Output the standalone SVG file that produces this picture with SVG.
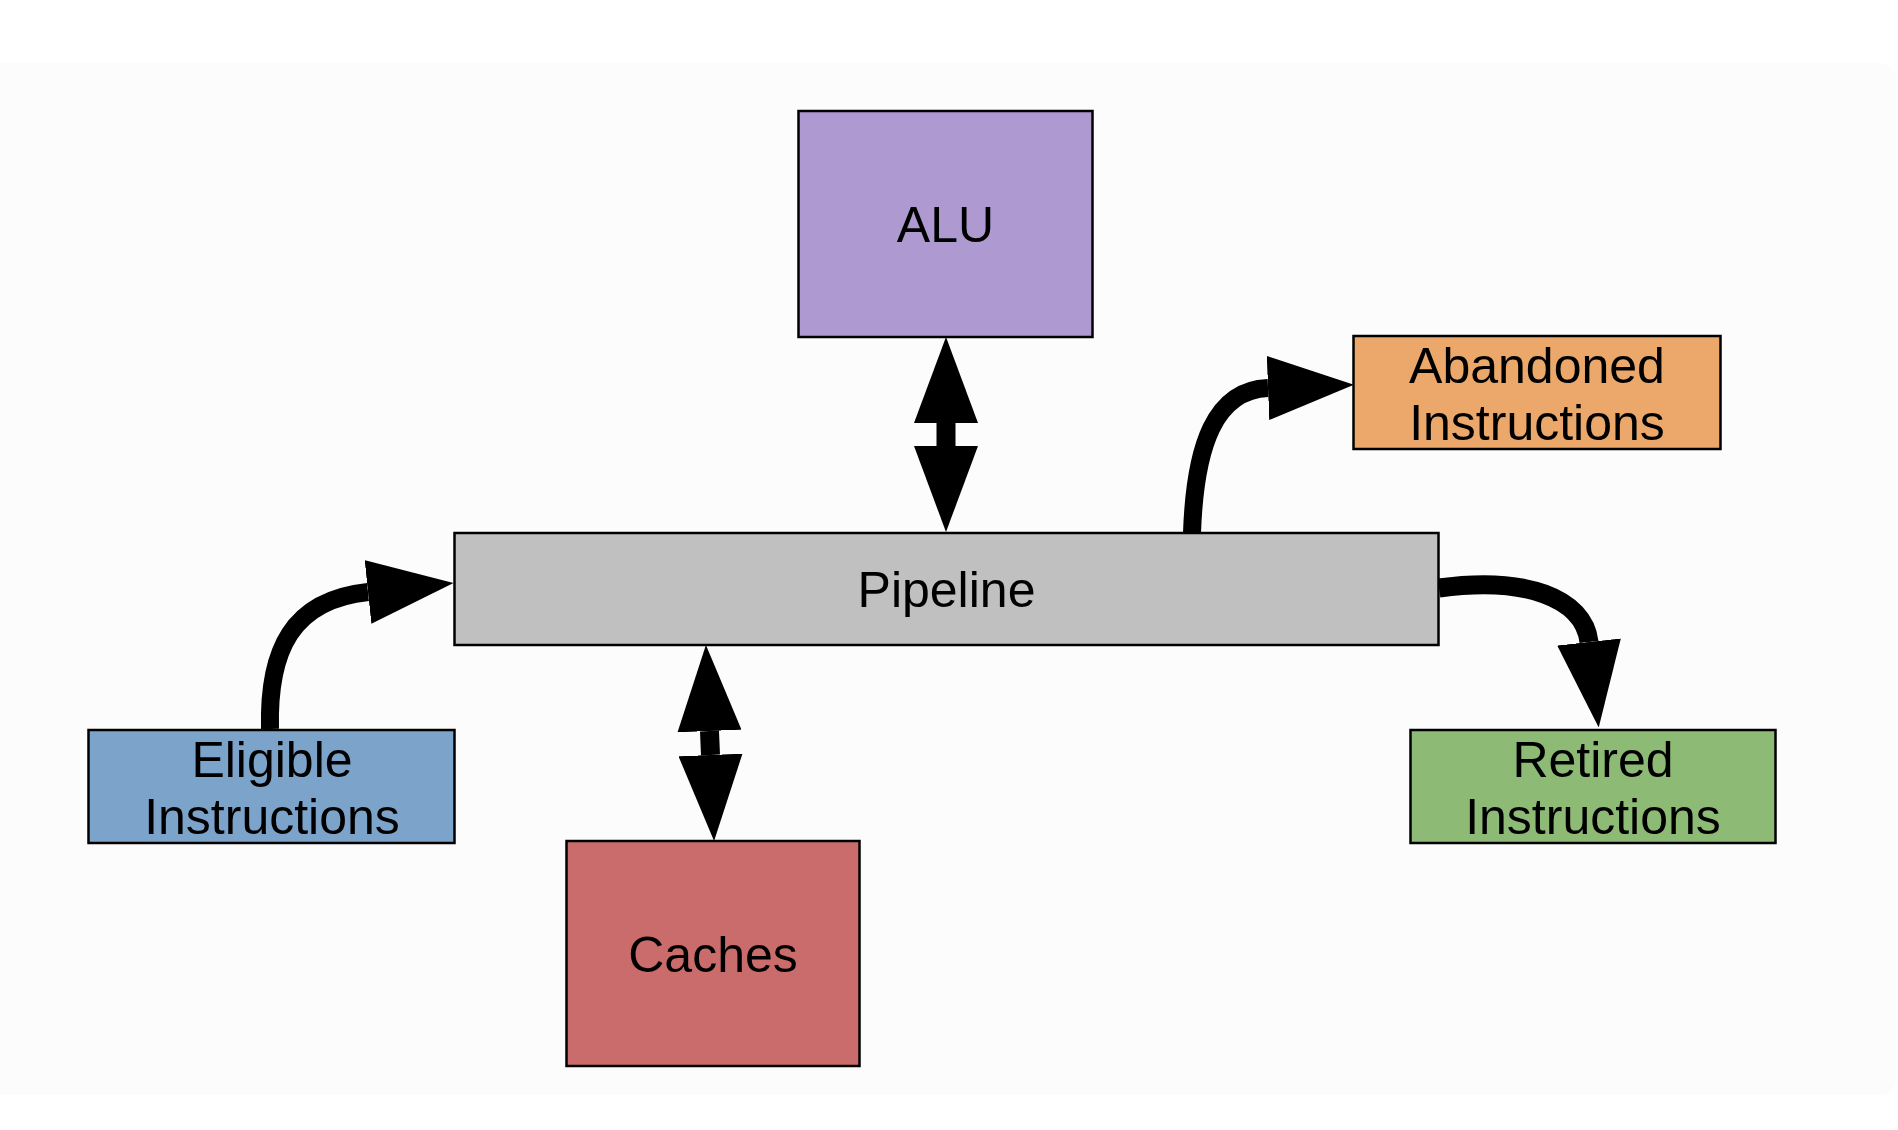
<svg xmlns="http://www.w3.org/2000/svg" width="1898" height="1130" viewBox="0 0 1898 1130">
<style>
.box{stroke:#000;stroke-width:2.5}
.lbl{font-family:"Liberation Sans",Arial,Helvetica,sans-serif;font-size:50px;fill:#000;text-anchor:middle}
.arr{fill:none;stroke:#000;stroke-linecap:butt;marker-end:url(#head)}
.dbl{fill:none;stroke:#000;stroke-width:19;stroke-linecap:butt;marker-start:url(#head);marker-end:url(#head)}
</style>
<defs>
<marker id="head" viewBox="0 0 86 64" refX="0" refY="32" markerUnits="userSpaceOnUse" markerWidth="86" markerHeight="64" orient="auto-start-reverse">
<path d="M0,0 L86,32 L0,64 Z" fill="#000"/>
</marker>
</defs>
<rect x="0" y="0" width="1898" height="1130" fill="#ffffff"/>
<rect x="-20" y="63" width="1916" height="1032" rx="16" fill="#fcfcfc"/>

<g id="connectors">
<path class="dbl" d="M946,423 L946,446"/>
<path class="dbl" d="M709.5,731 L710.5,755"/>
<path class="arr" stroke-width="18" d="M270,729 C268,650 292,600 368,592"/>
<path class="arr" stroke-width="18" d="M1192,533 C1195,445 1215,390 1268,388"/>
<path class="arr" stroke-width="19" d="M1439,588 C1525,576 1584,598 1589,642"/>
</g>

<g id="alu">
<rect class="box" x="798.5" y="111" width="294" height="226" fill="#ae9ad0"/>
<text class="lbl" x="945.5" y="242">ALU</text>
</g>
<g id="pipeline">
<rect class="box" x="454.5" y="533" width="984" height="112" fill="#c0c0c0"/>
<text class="lbl" x="946.5" y="607">Pipeline</text>
</g>
<g id="abandoned">
<rect class="box" x="1353.5" y="336" width="367" height="113" fill="#eba86a"/>
<text class="lbl" x="1537" y="383">Abandoned</text>
<text class="lbl" x="1537" y="440">Instructions</text>
</g>
<g id="eligible">
<rect class="box" x="88.5" y="730" width="366" height="113" fill="#7ca3ca"/>
<text class="lbl" x="272" y="777">Eligible</text>
<text class="lbl" x="272" y="834">Instructions</text>
</g>
<g id="retired">
<rect class="box" x="1410.5" y="730" width="365" height="113" fill="#8dba75"/>
<text class="lbl" x="1593" y="777">Retired</text>
<text class="lbl" x="1593" y="834">Instructions</text>
</g>
<g id="caches">
<rect class="box" x="566.5" y="841" width="293" height="225" fill="#cb6c6c"/>
<text class="lbl" x="713" y="972">Caches</text>
</g>
</svg>
